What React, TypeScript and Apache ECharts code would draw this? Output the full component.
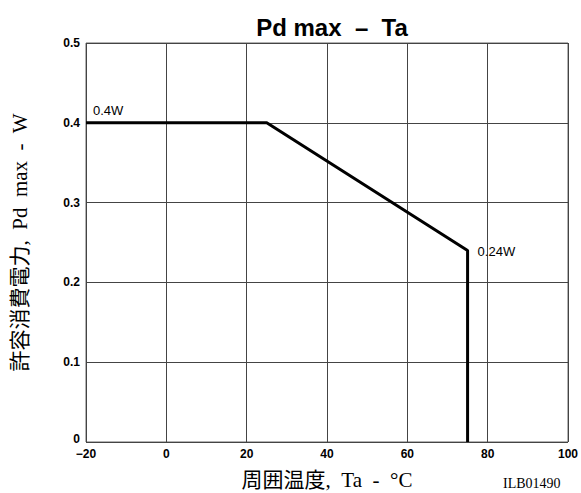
import React, { useEffect, useRef } from "react";
import * as echarts from "echarts";

const temps = [-20, 25, 75, 75];
const power = [0.4, 0.4, 0.24, 0];
const xTicks = [-20, 0, 20, 40, 60, 80, 100];
const yTicks = [0, 0.1, 0.2, 0.3, 0.4, 0.5];
const pointLabels = ["0.4W", "", "0.24W", ""];

export default function App() {
  const ref = useRef<HTMLDivElement>(null);
  useEffect(() => {
    const chart = echarts.init(ref.current!, null, { renderer: "svg" });
    const sans = "Liberation Sans, Arial, sans-serif";
    const serif = "Liberation Serif, 'Noto Sans CJK JP', serif";
    chart.setOption({
      animation: false,
      backgroundColor: "#fff",
      title: {
        text: "Pd max  –  Ta",
        left: 327,
        textAlign: "center",
        top: 10,
        textStyle: { fontFamily: sans, fontWeight: "bold", fontSize: 24, color: "#000" },
      },
      grid: {
        left: 86,
        right: 13,
        top: 43,
        bottom: 51,
        show: true,
        borderColor: "#666",
        borderWidth: 1,
        outerBoundsMode: "none",
        containLabel: false,
      },
      xAxis: {
        type: "value",
        min: xTicks[0],
        max: xTicks[xTicks.length - 1],
        interval: 20,
        axisLine: { show: false },
        axisTick: { show: false },
        splitLine: { lineStyle: { color: "#444", width: 1 } },
        axisLabel: {
          margin: 6,
          color: "#000",
          fontFamily: sans,
          fontWeight: "bold",
          fontSize: 12,
          formatter: (v: number) => (v < 0 ? "−" + Math.abs(v) : String(v)),
        },
        name: "周囲温度,  Ta  -  °C",
        nameLocation: "middle",
        nameGap: 27,
        nameTextStyle: { fontFamily: serif, fontSize: 21, color: "#000" },
      },
      yAxis: {
        type: "value",
        min: yTicks[0],
        max: yTicks[yTicks.length - 1],
        interval: 0.1,
        axisLine: { show: false },
        axisTick: { show: false },
        splitLine: { lineStyle: { color: "#444", width: 1 } },
        axisLabel: {
          margin: 6,
          color: "#000",
          fontFamily: sans,
          fontWeight: "bold",
          fontSize: 12,
          formatter: (v: number) => (v === 0 ? "{z|0}" : v.toFixed(1)),
          rich: {
            z: { fontFamily: sans, fontWeight: "bold", fontSize: 12, color: "#000", padding: [0, 0, 6, 0] },
          },
        },
        name: "許容消費電力,  Pd  max  -  W",
        nameLocation: "middle",
        nameGap: 56,
        nameRotate: 90,
        nameTextStyle: { fontFamily: serif, fontSize: 21, color: "#000" },
      },
      series: [
        {
          type: "line",
          data: temps.map((t, i) => ({
            value: [t, power[i]],
            label: pointLabels[i]
              ? {
                  show: true,
                  formatter: pointLabels[i],
                  position: "right",
                  distance: 5,
                  offset: i === 0 ? [2, -12] : [5, 1],
                  color: "#000",
                  fontFamily: sans,
                  fontSize: 13,
                }
              : { show: false },
          })),
          showSymbol: true,
          symbol: "circle",
          symbolSize: 0.01,
          itemStyle: { color: "#000" },
          lineStyle: { color: "#000", width: 3 },
        },
      ],
      graphic: [
        {
          type: "text",
          left: 503,
          top: 476,
          style: { text: "ILB01490", fontFamily: serif, fontSize: 14, fill: "#000" },
        },
      ],
    });
    return () => chart.dispose();
  }, []);
  return <div ref={ref} style={{ position: "fixed", left: 0, top: 0, width: 581, height: 493 }} />;
}
